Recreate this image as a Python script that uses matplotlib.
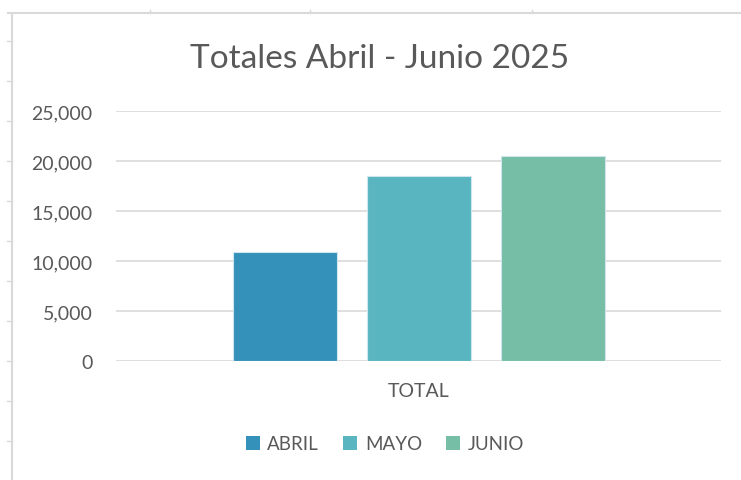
import matplotlib
matplotlib.use("Agg")
import matplotlib.pyplot as plt
from matplotlib.lines import Line2D
from matplotlib.patches import Patch

plt.rcParams['font.family'] = ['Lato', 'DejaVu Sans']

title = "Totales Abril - Junio 2025"
category = ["TOTAL"]
series = ["ABRIL", "MAYO", "JUNIO"]
values = [10870, 18470, 20470]
colors = ["#3492BA", "#59B5C0", "#76BEA6"]
yticks = [0, 5000, 10000, 15000, 20000, 25000]

W, H = 741, 481
fig = plt.figure(figsize=(W / 100, H / 100), dpi=100)
fig.patch.set_facecolor("white")

# spreadsheet frame decoration
grey = "#d9d9d9"
fig.add_artist(Line2D([8 / W, 1], [1 - 14 / H] * 2, color=grey, lw=1.5, transform=fig.transFigure))
fig.add_artist(Line2D([12 / W] * 2, [0, 1 - 14 / H], color=grey, lw=1.5, transform=fig.transFigure))
for x in [150, 310, 532]:
    fig.add_artist(Line2D([x / W] * 2, [1 - 11 / H, 1 - 14 / H], color=grey, lw=1, transform=fig.transFigure))
for y in range(42, 481, 40):
    fig.add_artist(Line2D([7 / W, 12 / W], [1 - y / H] * 2, color=grey, lw=1, transform=fig.transFigure))

left, right = 116 / W, 721 / W
bottom, top = 1 - 362 / H, 1 - 112 / H
ax = fig.add_axes([left, bottom, right - left, top - bottom])

plot_w = 605.0
bw = 104 / plot_w
step = 134 / plot_w
n = len(series)
for i, (s, v, c) in enumerate(zip(series, values, colors)):
    ax.bar(0 + (i - (n - 1) / 2) * step, v, width=bw, color=c, edgecolor="#cfe6ee", linewidth=0.8, label=s, zorder=3)

ax.set_xlim(-0.5, 0.5)
ax.set_ylim(0, 25000)
ax.set_yticks(yticks)
ax.set_yticklabels([f"{t:,}" for t in yticks])
ax.set_xticks([0])
ax.set_xticklabels(category)
ax.tick_params(axis="both", length=0, labelsize=14, colors="#595959")
ax.tick_params(axis="y", pad=17)
ax.tick_params(axis="x", pad=15)
ax.grid(axis="y", color=grey, lw=1.2, zorder=0)
for sp in ax.spines.values():
    sp.set_visible(False)

fig.text(380 / W, 1 - 59 / H, title, ha="center", va="center", fontsize=24, color="#595959")

handles = [Patch(facecolor=c, edgecolor="none", label=s) for s, c in zip(series, colors)]
leg = fig.legend(handles=handles, loc="center", bbox_to_anchor=(385 / W, 1 - 445 / H), ncol=3, frameon=False,
                 fontsize=13.5, handlelength=0.75, handleheight=0.75, handletextpad=0.4, columnspacing=1.3)
for t in leg.get_texts():
    t.set_color("#595959")

fig.savefig("out.png", dpi=100, facecolor="white")
